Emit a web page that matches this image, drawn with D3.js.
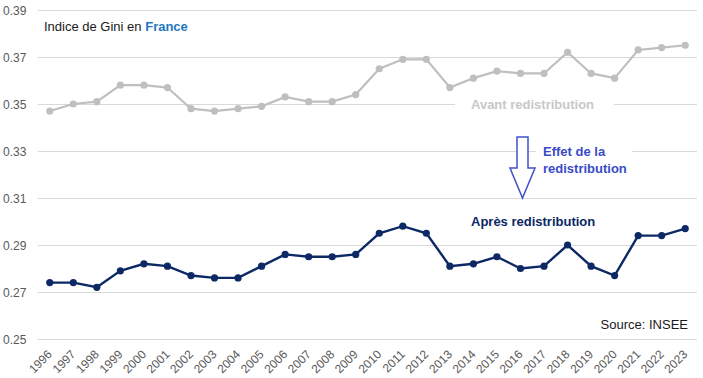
<!doctype html>
<html>
<head>
<meta charset="UTF-8">
<title>Gini France</title>
<script src="https://d3js.org/d3.v7.min.js"></script>
<style>
  body { margin: 0; background: #fff; }
  text { font-family: Arial, "Liberation Sans", sans-serif; }
</style>
</head>
<body>
<svg width="703" height="378"></svg>
<script>
var years = ["1996","1997","1998","1999","2000","2001","2002","2003","2004","2005","2006","2007","2008","2009",
             "2010","2011","2012","2013","2014","2015","2016","2017","2018","2019","2020","2021","2022","2023"];
var avant = [0.347,0.350,0.351,0.358,0.358,0.357,0.348,0.347,0.348,0.349,0.353,0.351,0.351,0.354,
             0.365,0.369,0.369,0.357,0.361,0.364,0.363,0.363,0.372,0.363,0.361,0.373,0.374,0.375];
var apres = [0.274,0.274,0.272,0.279,0.282,0.281,0.277,0.276,0.276,0.281,0.286,0.285,0.285,0.286,
             0.295,0.298,0.295,0.281,0.282,0.285,0.280,0.281,0.290,0.281,0.277,0.294,0.294,0.297];
var yTicks = [0.25,0.27,0.29,0.31,0.33,0.35,0.37,0.39];

var svg = d3.select("svg");
var plotLeft = 38, plotRight = 697, plotTop = 10, plotBottom = 339;

var x = d3.scalePoint().domain(years).range([plotLeft, plotRight]).padding(0.5);
var y = d3.scaleLinear().domain([0.25, 0.39]).range([plotBottom, plotTop]);

// grid
svg.append("g").selectAll("line").data(yTicks).enter().append("line")
    .attr("x1", plotLeft).attr("x2", plotRight)
    .attr("y1", function(d) { return Math.round(y(d)) + 0.5; })
    .attr("y2", function(d) { return Math.round(y(d)) + 0.5; })
    .attr("stroke", "#d9d9d9").attr("stroke-width", 1);

// y labels
svg.append("g").selectAll("text").data(yTicks).enter().append("text")
    .attr("x", 3)
    .attr("y", function(d) { return y(d) + 4.5; })
    .attr("font-size", "12px").attr("fill", "#595959")
    .text(function(d) { return d.toFixed(2); });

// x labels
svg.append("g").selectAll("text").data(years).enter().append("text")
    .attr("transform", function(d) { return "translate(" + (x(d) + 3) + ",355) rotate(-45)"; })
    .attr("text-anchor", "end")
    .attr("font-size", "12px").attr("fill", "#595959")
    .text(function(d) { return d; });

function drawSeries(vals, color, width, r) {
    var line = d3.line()
        .x(function(d, i) { return x(years[i]); })
        .y(function(d) { return y(d); });
    svg.append("path").datum(vals)
        .attr("d", line).attr("fill", "none")
        .attr("stroke", color).attr("stroke-width", width);
    svg.append("g").selectAll("circle").data(vals).enter().append("circle")
        .attr("cx", function(d, i) { return x(years[i]); })
        .attr("cy", function(d) { return y(d); })
        .attr("r", r).attr("fill", color);
}
drawSeries(avant, "#bfbfbf", 2.2, 3.6);
drawSeries(apres, "#0c2865", 2.4, 3.6);

// title
var t = svg.append("text").attr("x", 44).attr("y", 31).attr("font-size", "13px").attr("fill", "#1a1a1a");
t.append("tspan").text("Indice de Gini en ");
t.append("tspan").attr("font-weight", "bold").attr("fill", "#1f77c0").text("France");

// Avant label with white background
svg.append("rect").attr("x", 455).attr("y", 95).attr("width", 159).attr("height", 18).attr("fill", "#fff");
svg.append("text").attr("x", 471).attr("y", 109)
    .attr("font-size", "13px").attr("font-weight", "bold").attr("fill", "#c8c8c8")
    .text("Avant redistribution");

// arrow
svg.append("rect").attr("x", 536).attr("y", 140).attr("width", 96).attr("height", 38).attr("fill", "#fff");
svg.append("path")
    .attr("d", "M517,137 L528,137 L528,168 L535,168 L522.5,198 L510,168 L517,168 Z")
    .attr("fill", "#fff").attr("stroke", "#4050cc").attr("stroke-width", 1.5);
var e = svg.append("text").attr("font-size", "13px").attr("font-weight", "bold").attr("fill", "#3a4bc8");
e.append("tspan").attr("x", 543).attr("y", 156).text("Effet de la");
e.append("tspan").attr("x", 543).attr("y", 173).text("redistribution");

svg.append("text").attr("x", 471).attr("y", 226)
    .attr("font-size", "13px").attr("font-weight", "bold").attr("fill", "#0c2865")
    .text("Après redistribution");

svg.append("text").attr("x", 688).attr("y", 329).attr("text-anchor", "end")
    .attr("font-size", "13px").attr("fill", "#1a1a1a")
    .text("Source: INSEE");
</script>
</body>
</html>
